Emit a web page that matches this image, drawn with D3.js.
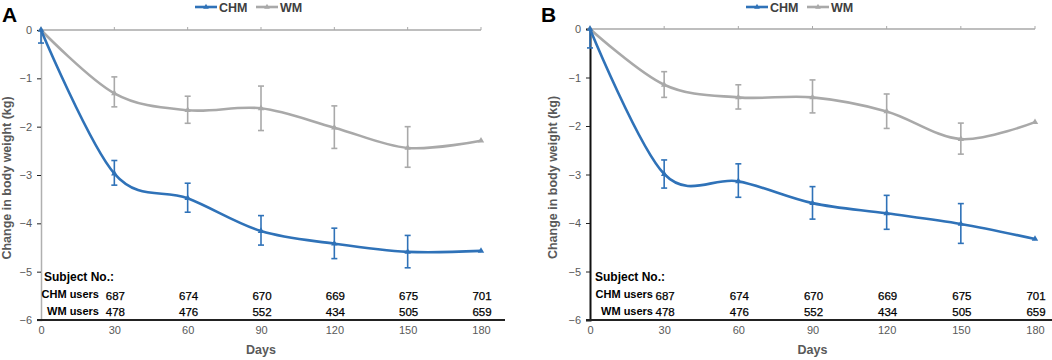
<!DOCTYPE html>
<html><head><meta charset="utf-8">
<script src="https://cdn.jsdelivr.net/npm/d3@7"></script>
<style>body{margin:0;background:#fff}svg{display:block;font-family:"Liberation Sans",Arial,sans-serif}</style>
</head><body>
<svg id="c" width="1052" height="360"></svg>
<script>
const days = [0, 30, 60, 90, 120, 150, 180];
const yTicks = [0, -1, -2, -3, -4, -5, -6];
const seriesNames = ["CHM", "WM"];
// Panel A
const chmA = [0, -2.97, -3.48, -4.16, -4.42, -4.59, -4.57];
const chmAHi = [0, -2.70, -3.17, -3.84, -4.10, -4.25, -4.57];
const chmALo = [-0.27, -3.21, -3.77, -4.45, -4.73, -4.92, -4.57];
const wmA = [0, -1.31, -1.66, -1.62, -2.02, -2.44, -2.29];
const wmAHi = [0, -0.97, -1.37, -1.16, -1.57, -2.00, -2.29];
const wmALo = [0, -1.59, -1.93, -2.08, -2.45, -2.84, -2.29];
// Panel B
const chmB = [0, -2.99, -3.14, -3.59, -3.80, -4.02, -4.33];
const chmBHi = [0, -2.70, -2.78, -3.25, -3.43, -3.60, -4.33];
const chmBLo = [-0.39, -3.28, -3.47, -3.92, -4.13, -4.42, -4.33];
const wmB = [0, -1.15, -1.41, -1.41, -1.70, -2.27, -1.92];
const wmBHi = [0, -0.88, -1.15, -1.05, -1.34, -1.94, -1.92];
const wmBLo = [0, -1.41, -1.65, -1.73, -2.05, -2.58, -1.92];
// Subject numbers
const chmUsers = [687, 674, 670, 669, 675, 701];
const wmUsers = [478, 476, 552, 434, 505, 659];
const tableDays = [30, 60, 90, 120, 150, 180];

const BLUE = "#2f72b8", GRAY = "#a9a9a9", TXT = "#595959";
const svg = d3.select("#c");

function panel(o) {
  const g = svg.append("g");
  const x = d3.scaleLinear().domain([0, 180]).range([o.x0, o.x1]);
  const y = d3.scaleLinear().domain([0, -6]).range([o.y0, o.y1]);
  // panel letter
  g.append("text").attr("x", o.lx).attr("y", 22).attr("font-size", 21).attr("font-weight", "bold").attr("fill", "#000").text(o.letter);
  // top zero line (gray) with upward ticks
  g.append("line").attr("x1", x(0)).attr("x2", x(180)).attr("y1", y(0)).attr("y2", y(0)).attr("stroke", GRAY).attr("stroke-width", 1.5);
  days.slice(1).forEach(d => g.append("line").attr("x1", x(d)).attr("x2", x(d)).attr("y1", y(0)).attr("y2", y(0) - 3).attr("stroke", GRAY).attr("stroke-width", 1));
  // left axis
  const ya = d3.axisLeft(y).tickValues(yTicks).tickSize(4).tickFormat(d3.format("d"));
  const yg = g.append("g").attr("transform", `translate(${x(0)},0)`).call(ya);
  yg.select(".domain").attr("stroke", o.leftColor).attr("stroke-width", o.leftWidth);
  yg.selectAll(".tick line").attr("stroke", "#222");
  yg.selectAll(".tick text").attr("fill", TXT).attr("font-size", 11).attr("font-family", "Liberation Sans, Arial").attr("x", -9);
  // bottom axis
  const xa = d3.axisBottom(x).tickValues(days).tickSize(0).tickPadding(6);
  const xg = g.append("g").attr("transform", `translate(0,${y(-6)})`).call(xa);
  xg.select(".domain").remove();
  xg.selectAll(".tick text").attr("fill", TXT).attr("font-size", 11).attr("font-family", "Liberation Sans, Arial");
  g.append("line").attr("x1", x(0) - 4).attr("x2", o.bx1).attr("y1", y(-6)).attr("y2", y(-6)).attr("stroke", "#222").attr("stroke-width", 2);
  // axis titles
  g.append("text").attr("x", (x(0) + x(180)) / 2).attr("y", 354).attr("text-anchor", "middle").attr("font-size", 12.5).attr("font-weight", "bold").attr("fill", TXT).text("Days");
  g.append("text").attr("transform", `translate(${o.ytx},${(y(0) + y(-6)) / 2 + 3}) rotate(-90)`).attr("text-anchor", "middle").attr("font-size", 12.5).attr("font-weight", "bold").attr("fill", TXT).text("Change in body weight (kg)");
  // series
  const line = d3.line().x((d, i) => x(days[i])).y(d => y(d)).curve(d3.curveCardinal.tension(0));
  const sets = [
    {v: o.wm, hi: o.wmHi, lo: o.wmLo, c: GRAY},
    {v: o.chm, hi: o.chmHi, lo: o.chmLo, c: BLUE}
  ];
  sets.forEach(s => {
    s.v.forEach((d, i) => {
      if (s.hi[i] === s.lo[i]) return;
      const xx = x(days[i]);
      g.append("line").attr("x1", xx).attr("x2", xx).attr("y1", y(s.hi[i])).attr("y2", y(s.lo[i])).attr("stroke", s.c).attr("stroke-width", 1.6);
      [s.hi[i], s.lo[i]].forEach(e => { if (e !== d) g.append("line").attr("x1", xx - 3).attr("x2", xx + 3).attr("y1", y(e)).attr("y2", y(e)).attr("stroke", s.c).attr("stroke-width", 1.6); });
    });
    g.append("path").datum(s.v).attr("d", line).attr("fill", "none").attr("stroke", s.c).attr("stroke-width", 2.6);
    g.selectAll(null).data(s.v).enter().append("path")
      .attr("d", d3.symbol(d3.symbolTriangle, 18))
      .attr("transform", (d, i) => `translate(${x(days[i])},${y(d)})`).attr("fill", s.c);
  });
  // legend
  const legend = [{n: seriesNames[0], c: BLUE, x: o.legX}, {n: seriesNames[1], c: GRAY, x: o.legX + 61}];
  legend.forEach(l => {
    g.append("line").attr("x1", l.x).attr("x2", l.x + 22).attr("y1", 7).attr("y2", 7).attr("stroke", l.c).attr("stroke-width", 2.6);
    g.append("path").attr("d", d3.symbol(d3.symbolTriangle, 14)).attr("transform", `translate(${l.x + 11},7)`).attr("fill", l.c);
    g.append("text").attr("x", l.x + 24).attr("y", 11.5).attr("font-size", 12.5).attr("font-weight", "bold").attr("fill", "#404040").text(l.n);
  });
  // subject table
  g.append("text").attr("x", o.tx).attr("y", 281).attr("font-size", 12).attr("font-weight", "bold").attr("fill", "#000").text("Subject No.:");
  g.append("text").attr("x", o.tlx).attr("y", 298).attr("text-anchor", "end").attr("font-size", 11).attr("font-weight", "bold").attr("fill", "#000").text("CHM users");
  g.append("text").attr("x", o.tlx).attr("y", 315).attr("text-anchor", "end").attr("font-size", 11).attr("font-weight", "bold").attr("fill", "#000").text("WM users");
  tableDays.forEach((d, i) => {
    g.append("text").attr("x", x(d) + 1).attr("y", 300).attr("text-anchor", "middle").attr("font-size", 11.5).attr("fill", "#000").attr("stroke", "#000").attr("stroke-width", 0.25).text(chmUsers[i]);
    g.append("text").attr("x", x(d) + 1).attr("y", 316).attr("text-anchor", "middle").attr("font-size", 11.5).attr("fill", "#000").attr("stroke", "#000").attr("stroke-width", 0.25).text(wmUsers[i]);
  });
}

panel({letter: "A", lx: 2, x0: 41, x1: 481, y0: 30, y1: 320, bx1: 505, leftColor: "#b0b0b0", leftWidth: 1.5, ytx: 11,
  chm: chmA, chmHi: chmAHi, chmLo: chmALo, wm: wmA, wmHi: wmAHi, wmLo: wmALo, legX: 195, tx: 44, tlx: 99});
panel({letter: "B", lx: 541, x0: 590, x1: 1035, y0: 29, y1: 320, bx1: 1052, leftColor: "#111", leftWidth: 2, ytx: 557,
  chm: chmB, chmHi: chmBHi, chmLo: chmBLo, wm: wmB, wmHi: wmBHi, wmLo: wmBLo, legX: 746, tx: 595, tlx: 653});
</script>
</body></html>
